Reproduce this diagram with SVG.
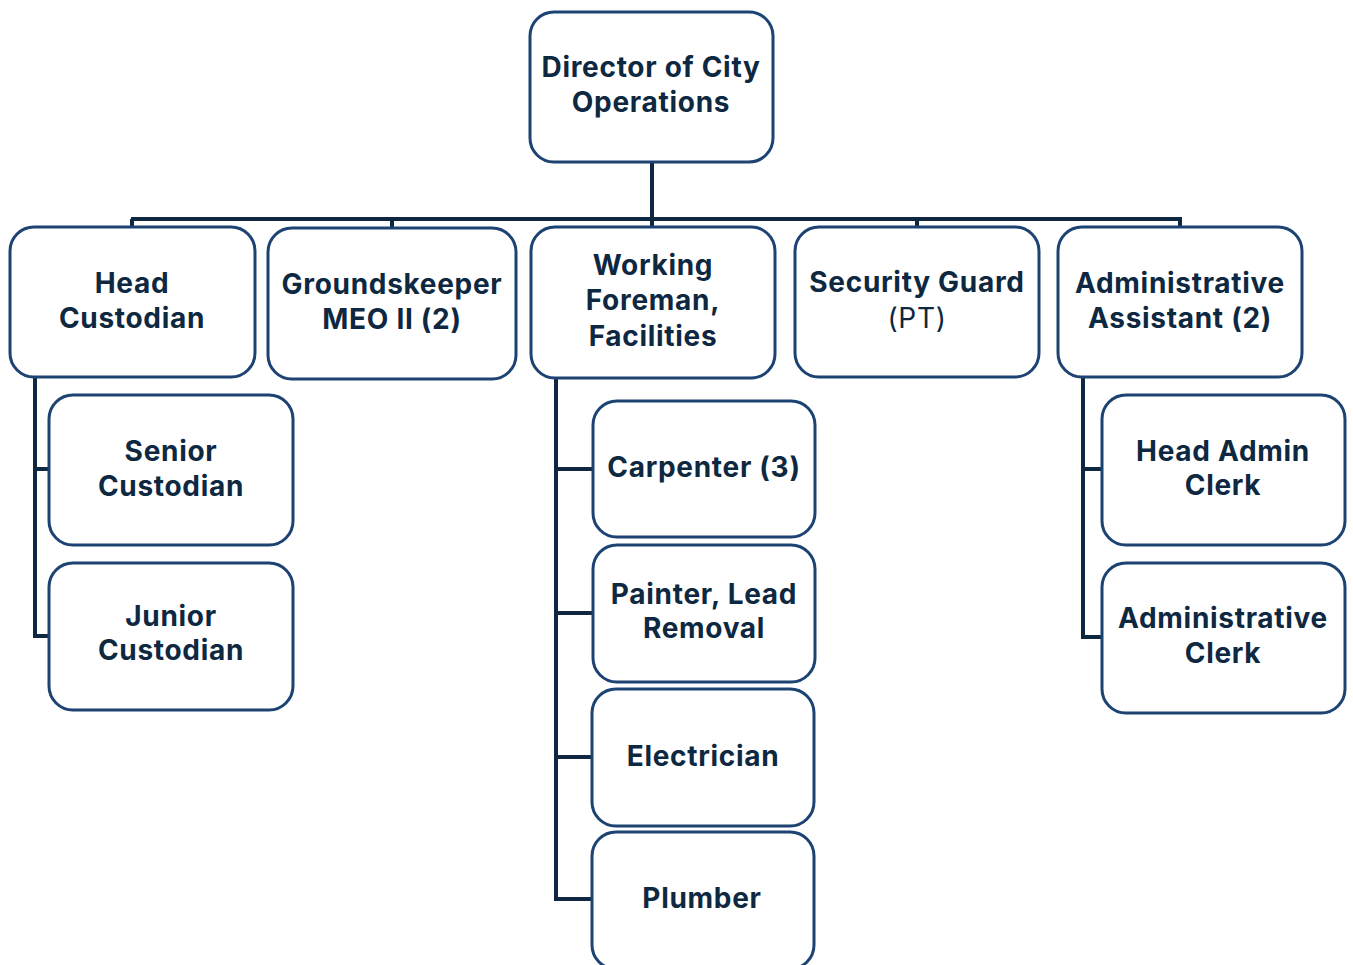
<svg xmlns="http://www.w3.org/2000/svg" width="1353" height="965" viewBox="0 0 1353 965">
  <style>
    .box { fill: #ffffff; stroke: #1d4373; stroke-width: 3; }
    .link { fill: none; stroke: #0e2841; stroke-width: 4; stroke-linejoin: miter; }
    .lbl { font-family: Inter, "Liberation Sans", Arial, sans-serif; font-size: 28px; font-weight: 700; fill: #0e2841; text-anchor: middle; letter-spacing: 0.7px; }
    .reg { font-weight: 400; }
  </style>
  <rect width="1353" height="965" fill="#ffffff"/>

  <!-- connectors -->
  <g id="connectors">
    <path class="link" d="M652 162 V227"/>
    <path class="link" d="M131 219 H1182"/>
    <path class="link" d="M132 219 V227"/>
    <path class="link" d="M392 219 V228"/>
    <path class="link" d="M917 219 V227"/>
    <path class="link" d="M1180 219 V227"/>
    <!-- Head Custodian reports -->
    <path class="link" d="M35 377 V636 H49"/>
    <path class="link" d="M35 469 H49"/>
    <!-- Working Foreman reports -->
    <path class="link" d="M556 378 V899 H592"/>
    <path class="link" d="M556 469 H593"/>
    <path class="link" d="M556 613 H593"/>
    <path class="link" d="M556 757 H592"/>
    <!-- Administrative Assistant reports -->
    <path class="link" d="M1083 377 V637 H1102"/>
    <path class="link" d="M1083 469 H1102"/>
  </g>

  <g id="director">
    <rect class="box" x="530" y="12" width="243" height="150" rx="24"/>
    <text class="lbl" x="651" y="77">Director of City</text>
    <text class="lbl" x="651" y="112">Operations</text>
  </g>

  <g id="head-custodian">
    <rect class="box" x="10" y="227" width="245" height="150" rx="24"/>
    <text class="lbl" x="132" y="293">Head</text>
    <text class="lbl" x="132" y="328">Custodian</text>
  </g>

  <g id="groundskeeper">
    <rect class="box" x="268" y="228" width="248" height="151" rx="24"/>
    <text class="lbl" x="392" y="294">Groundskeeper</text>
    <text class="lbl" x="392" y="329">MEO II (2)</text>
  </g>

  <g id="working-foreman">
    <rect class="box" x="531" y="227" width="244" height="151" rx="24"/>
    <text class="lbl" x="653" y="275">Working</text>
    <text class="lbl" x="653" y="310">Foreman,</text>
    <text class="lbl" x="653" y="346">Facilities</text>
  </g>

  <g id="security-guard">
    <rect class="box" x="795" y="227" width="244" height="150" rx="24"/>
    <text class="lbl" x="917" y="292">Security Guard</text>
    <text class="lbl reg" x="917" y="328">(PT)</text>
  </g>

  <g id="admin-assistant">
    <rect class="box" x="1058" y="227" width="244" height="150" rx="24"/>
    <text class="lbl" x="1180" y="293">Administrative</text>
    <text class="lbl" x="1180" y="328">Assistant (2)</text>
  </g>

  <g id="senior-custodian">
    <rect class="box" x="49" y="395" width="244" height="150" rx="24"/>
    <text class="lbl" x="171" y="461">Senior</text>
    <text class="lbl" x="171" y="496">Custodian</text>
  </g>

  <g id="junior-custodian">
    <rect class="box" x="49" y="563" width="244" height="147" rx="24"/>
    <text class="lbl" x="171" y="626">Junior</text>
    <text class="lbl" x="171" y="660">Custodian</text>
  </g>

  <g id="carpenter">
    <rect class="box" x="593" y="401" width="222" height="136" rx="24"/>
    <text class="lbl" x="704" y="477">Carpenter (3)</text>
  </g>

  <g id="painter">
    <rect class="box" x="593" y="545" width="222" height="137" rx="24"/>
    <text class="lbl" x="704" y="604">Painter, Lead</text>
    <text class="lbl" x="704" y="638">Removal</text>
  </g>

  <g id="electrician">
    <rect class="box" x="592" y="689" width="222" height="137" rx="24"/>
    <text class="lbl" x="703" y="766">Electrician</text>
  </g>

  <g id="plumber">
    <rect class="box" x="592" y="832" width="222" height="137" rx="24"/>
    <text class="lbl" x="702" y="908">Plumber</text>
  </g>

  <g id="head-admin-clerk">
    <rect class="box" x="1102" y="395" width="243" height="150" rx="24"/>
    <text class="lbl" x="1223" y="461">Head Admin</text>
    <text class="lbl" x="1223" y="495">Clerk</text>
  </g>

  <g id="admin-clerk">
    <rect class="box" x="1102" y="563" width="243" height="150" rx="24"/>
    <text class="lbl" x="1223" y="628">Administrative</text>
    <text class="lbl" x="1223" y="663">Clerk</text>
  </g>
</svg>
